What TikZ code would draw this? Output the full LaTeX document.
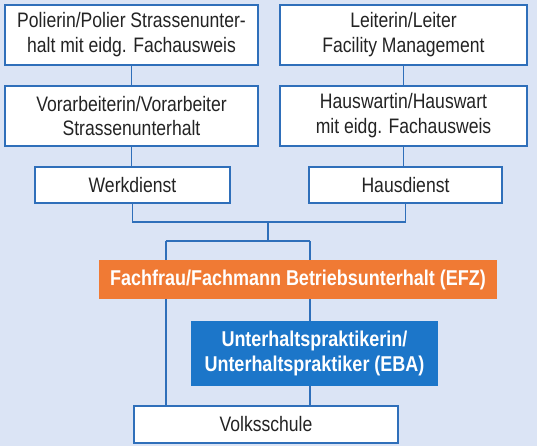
\documentclass[tikz,border=0pt]{standalone}
\usepackage{fontspec}
\setmainfont{Liberation Sans}[FakeStretch=0.84]
\usetikzlibrary{positioning}

\definecolor{fondo}{RGB}{219,228,245}
\definecolor{azul}{RGB}{47,111,186}
\definecolor{azulcaja}{RGB}{28,118,201}
\definecolor{naranja}{RGB}{240,122,52}
\definecolor{texto}{RGB}{35,35,35}

\tikzset{
  caja/.style={draw=azul, line width=1.5bp, fill=white, text=texto, inner sep=0pt,
    align=center, font=\fontsize{21}{25}\selectfont},
  cajanaranja/.style={fill=naranja, text=white, inner sep=0pt, align=center,
    font=\fontsize{21.5}{25}\selectfont\bfseries},
  cajaazul/.style={fill=azulcaja, text=white, inner sep=0pt, align=center,
    font=\fontsize{21.5}{26}\selectfont\bfseries},
  linea/.style={draw=azul, line width=1.5bp}
}

\begin{document}
\begin{tikzpicture}[x=1bp, y=-1bp]

    % fondo
    \fill[fondo] (0,0) rectangle (537,446);

    % columna izquierda
    \node[caja, minimum width=253bp, minimum height=60bp] (polier) at (131.5,35)
        {Polierin/Polier Strassenunter-\\halt mit eidg. Fachausweis};
    \node[caja, minimum width=253bp, minimum height=60bp] (vorarb) at (131.5,116)
        {Vorarbeiterin/Vorarbeiter\\Strassenunterhalt};
    \node[caja, minimum width=195bp, minimum height=36bp] (werk) at (132.5,185)
        {Werkdienst};

    % columna derecha
    \node[caja, minimum width=247bp, minimum height=60bp] (leiter) at (403.5,35)
        {Leiterin/Leiter\\Facility Management};
    \node[caja, minimum width=247bp, minimum height=60bp] (hausw) at (403.5,116)
        {Hauswartin/Hauswart\\mit eidg. Fachausweis};
    \node[caja, minimum width=193bp, minimum height=36bp] (haus) at (405.5,185)
        {Hausdienst};

    % grundbildung
    \node[cajanaranja, minimum width=398bp, minimum height=39bp] (efz) at (298,279.5)
        {Fachfrau/Fachmann Betriebsunterhalt (EFZ)};
    \node[cajaazul, minimum width=247bp, minimum height=65bp] (eba) at (314.5,353.5)
        {Unterhaltspraktikerin/\\Unterhaltspraktiker (EBA)};
    \node[caja, minimum width=264bp, minimum height=37bp] (volk) at (266,424.5)
        {Volksschule};

    % conexiones
    \coordinate (union) at (268,222);
    \coordinate (brizq) at (166,241);
    \coordinate (brder) at (310,241);

    \draw[linea] (polier.south) -- (vorarb.north);
    \draw[linea] (vorarb.south) -- (vorarb.south |- werk.north);
    \draw[linea] (leiter.south) -- (hausw.north);
    \draw[linea] (hausw.south) -- (hausw.south |- haus.north);

    \draw[linea] (werk.south) |- (union) -| (haus.south);
    \draw[linea] (union) -- (union |- brizq);
    \draw[linea] (brizq) -- (brder);
    \draw[linea] (brizq) -- (brizq |- efz.north);
    \draw[linea] (brder) -- (brder |- efz.north);

    \draw[linea] (brizq |- efz.south) -- (brizq |- volk.north);
    \draw[linea] (brder |- efz.south) -- (brder |- eba.north);
    \draw[linea] (brder |- eba.south) -- (brder |- volk.north);

\end{tikzpicture}
\end{document}
